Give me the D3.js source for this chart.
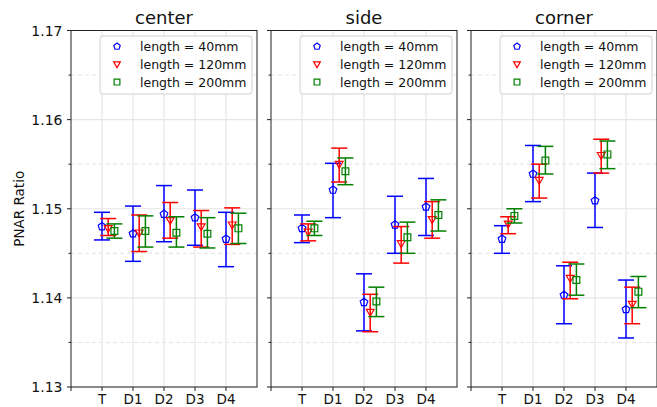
<!DOCTYPE html>
<html>
<head>
<meta charset="utf-8">
<script src="https://cdn.jsdelivr.net/npm/d3@7"></script>
<style>
  body { margin: 0; background: #fff; }
  text { font-family: "DejaVu Sans", sans-serif; fill: #111; }
</style>
</head>
<body>
<div id="chart"></div>
<script>
// data
var categories = ["T", "D1", "D2", "D3", "D4"];
var panelNames = ["center", "side", "corner"];
var seriesNames = ["length = 40mm", "length = 120mm", "length = 200mm"];
var yTicks = [1.13, 1.14, 1.15, 1.16, 1.17];
var yMinor = [1.135, 1.145, 1.155, 1.165];

// each entry: [mean, lower, upper]
var center40  = [[1.1480, 1.1465, 1.1496], [1.1472, 1.1441, 1.1503], [1.1494, 1.1463, 1.1526], [1.1490, 1.1459, 1.1521], [1.1466, 1.1435, 1.1496]];
var center120 = [[1.1478, 1.1470, 1.1489], [1.1473, 1.1452, 1.1493], [1.1487, 1.1467, 1.1507], [1.1480, 1.1457, 1.1498], [1.1482, 1.1460, 1.1501]];
var center200 = [[1.1475, 1.1467, 1.1483], [1.1475, 1.1457, 1.1492], [1.1473, 1.1457, 1.1491], [1.1472, 1.1456, 1.1490], [1.1478, 1.1461, 1.1495]];

var side40  = [[1.1478, 1.1462, 1.1493], [1.1521, 1.1490, 1.1551], [1.1395, 1.1363, 1.1427], [1.1482, 1.1450, 1.1514], [1.1502, 1.1470, 1.1534]];
var side120 = [[1.1474, 1.1464, 1.1483], [1.1550, 1.1530, 1.1568], [1.1384, 1.1362, 1.1404], [1.1461, 1.1439, 1.1480], [1.1488, 1.1467, 1.1508]];
var side200 = [[1.1478, 1.1470, 1.1486], [1.1542, 1.1527, 1.1557], [1.1396, 1.1379, 1.1412], [1.1468, 1.1450, 1.1485], [1.1493, 1.1475, 1.1510]];

var corner40  = [[1.1466, 1.1450, 1.1481], [1.1539, 1.1508, 1.1571], [1.1403, 1.1371, 1.1436], [1.1509, 1.1479, 1.1540], [1.1387, 1.1355, 1.1420]];
var corner120 = [[1.1483, 1.1472, 1.1491], [1.1532, 1.1512, 1.1550], [1.1422, 1.1399, 1.1440], [1.1560, 1.1540, 1.1578], [1.1393, 1.1371, 1.1412]];
var corner200 = [[1.1492, 1.1484, 1.1500], [1.1554, 1.1539, 1.1570], [1.1420, 1.1403, 1.1438], [1.1561, 1.1545, 1.1576], [1.1407, 1.1389, 1.1424]];

var panelData = [
    [center40, center120, center200],
    [side40, side120, side200],
    [corner40, corner120, corner200]
];

var colors = ["#0000ff", "#ff0000", "#008000"];
var offsets = [0, 0.2, 0.4];

// layout
var width = 657, height = 407;
var panelLeft = [71, 271, 471];
var panelW = 186;
var plotTop = 30.5, plotBottom = 387;

var svg = d3.select("#chart").append("svg")
    .attr("width", width).attr("height", height);

var y = d3.scaleLinear().domain([1.13, 1.17]).range([plotBottom, plotTop]);
var x = d3.scaleLinear().domain([-1, 5]).range([0, panelW]);

// marker shapes, scaled by k
function marker(g, type, color, k) {
    var p;
    if (type === 0) {
        // pentagon
        var r = 4 * k, pts = [];
        for (var i = 0; i < 5; i++) {
            var a = -Math.PI / 2 + i * 2 * Math.PI / 5;
            pts.push([r * Math.cos(a), r * Math.sin(a)]);
        }
        p = "M" + pts.join("L") + "Z";
    } else if (type === 1) {
        p = "M" + (-3.9 * k) + "," + (-2.8 * k) + "L" + (3.9 * k) + "," + (-2.8 * k) + "L0," + (4 * k) + "Z";
    } else {
        var h = 3.4 * k;
        p = "M" + (-h) + "," + (-h) + "L" + h + "," + (-h) + "L" + h + "," + h + "L" + (-h) + "," + h + "Z";
    }
    return g.append("path").attr("d", p)
        .attr("fill", "none").attr("stroke", color).attr("stroke-width", 1.2);
}

panelData.forEach(function(series, pi) {
    var g = svg.append("g").attr("transform", "translate(" + panelLeft[pi] + ",0)");

    // minor dashed grid
    g.selectAll(".minor").data(yMinor).enter().append("line")
        .attr("x1", 0).attr("x2", panelW)
        .attr("y1", function(d) { return y(d); }).attr("y2", function(d) { return y(d); })
        .attr("stroke", "#dcdcdc").attr("stroke-width", 0.8).attr("stroke-dasharray", "4,3");

    // major grid
    g.selectAll(".major").data(yTicks).enter().append("line")
        .attr("x1", 0).attr("x2", panelW)
        .attr("y1", function(d) { return y(d); }).attr("y2", function(d) { return y(d); })
        .attr("stroke", "#e6e6e6").attr("stroke-width", 1.2);

    g.selectAll(".vgrid").data(categories).enter().append("line")
        .attr("x1", function(d, i) { return x(i); }).attr("x2", function(d, i) { return x(i); })
        .attr("y1", plotTop).attr("y2", plotBottom)
        .attr("stroke", "#e6e6e6").attr("stroke-width", 1.2);

    // error bars + markers
    series.forEach(function(vals, si) {
        var s = g.append("g");
        vals.forEach(function(v, ci) {
            var cx = x(ci + offsets[si]);
            s.append("line").attr("x1", cx).attr("x2", cx)
                .attr("y1", y(v[1])).attr("y2", y(v[2]))
                .attr("stroke", colors[si]).attr("stroke-width", 1.5);
            [v[1], v[2]].forEach(function(e) {
                s.append("line").attr("x1", cx - 8).attr("x2", cx + 8)
                    .attr("y1", y(e)).attr("y2", y(e))
                    .attr("stroke", colors[si]).attr("stroke-width", 1.5);
            });
            marker(s, si, colors[si], 1).attr("transform", "translate(" + cx + "," + y(v[0]) + ")");
        });
    });

    // frame
    g.append("rect").attr("x", 0).attr("y", plotTop)
        .attr("width", panelW).attr("height", plotBottom - plotTop)
        .attr("fill", "none").attr("stroke", "#222").attr("stroke-width", 1);

    // y ticks (major + minor)
    g.selectAll(".yt").data(yTicks).enter().append("line")
        .attr("x1", -4).attr("x2", 0)
        .attr("y1", function(d) { return y(d); }).attr("y2", function(d) { return y(d); })
        .attr("stroke", "#222");
    g.selectAll(".ytm").data(yMinor).enter().append("line")
        .attr("x1", -2.5).attr("x2", 0)
        .attr("y1", function(d) { return y(d); }).attr("y2", function(d) { return y(d); })
        .attr("stroke", "#222");

    // x ticks
    g.selectAll(".xt").data([-1].concat(d3.range(categories.length))).enter().append("line")
        .attr("x1", function(d) { return x(d); }).attr("x2", function(d) { return x(d); })
        .attr("y1", plotBottom).attr("y2", plotBottom + 4)
        .attr("stroke", "#222");
    g.selectAll(".xl").data(categories).enter().append("text")
        .attr("x", function(d, i) { return x(i); }).attr("y", plotBottom + 17)
        .attr("text-anchor", "middle").attr("font-size", "13.5px")
        .text(function(d) { return d; });

    if (pi === 0) {
        g.selectAll(".yl").data(yTicks).enter().append("text")
            .attr("x", -8.5).attr("y", function(d) { return y(d) + 5; })
            .attr("text-anchor", "end").attr("font-size", "14px")
            .text(function(d) { return d3.format(".2f")(d); });
    }

    // title
    g.append("text").attr("x", panelW / 2).attr("y", 24)
        .attr("text-anchor", "middle").attr("font-size", "18px")
        .text(panelNames[pi]);

    // legend
    var lg = g.append("g").attr("transform", "translate(29,36)");
    lg.append("rect").attr("width", 152).attr("height", 58).attr("rx", 3)
        .attr("fill", "#fff").attr("fill-opacity", 0.85)
        .attr("stroke", "#d0d0d0").attr("stroke-width", 1);
    seriesNames.forEach(function(name, si) {
        var ly = 10.5 + si * 17.8;
        marker(lg, si, colors[si], 0.85).attr("transform", "translate(17," + ly + ")");
        lg.append("text").attr("x", 40).attr("y", ly + 4.5)
            .attr("font-size", "12.5px").text(name);
    });
});

// y axis label
svg.append("text")
    .attr("transform", "translate(23.5," + ((plotTop + plotBottom) / 2) + ") rotate(-90)")
    .attr("text-anchor", "middle").attr("font-size", "13.5px")
    .text("PNAR Ratio");
</script>
</body>
</html>
